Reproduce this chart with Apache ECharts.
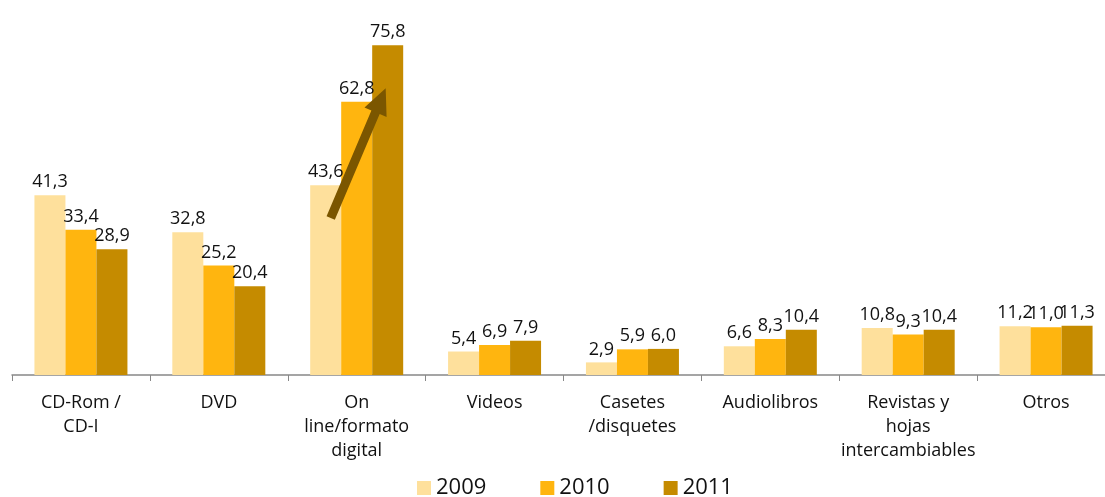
<!DOCTYPE html>
<html>
<head>
<meta charset="utf-8">
<script src="https://cdn.jsdelivr.net/npm/echarts@6/dist/echarts.min.js"></script>
<style>
  html, body { margin:0; padding:0; background:#fff; }
  #chart { width:1105px; height:497px; }
</style>
</head>
<body>
<div id="chart"></div>
<script>
/* ====== datos ====== */
const categories = ['CD-Rom /\nCD-I', 'DVD', 'On\nline/formato\ndigital', 'Videos',
  'Casetes\n/disquetes', 'Audiolibros', 'Revistas y\nhojas\nintercambiables', 'Otros'];
const years = ['2009', '2010', '2011'];
const v2009 = [41.3, 32.8, 43.6, 5.4, 2.9, 6.6, 10.8, 11.2];
const v2010 = [33.4, 25.2, 62.8, 6.9, 5.9, 8.3, 9.3, 11.0];
const v2011 = [28.9, 20.4, 75.8, 7.9, 6.0, 10.4, 10.4, 11.3];
const colors = ['#FEE09C', '#FFB50F', '#C58B00'];

// flecha de tendencia (On line): 2009 -> 2011
const arrowFrom = 36.1, arrowTo = 65.9;

const chart = echarts.init(document.getElementById('chart'));
const FONT = '"Open Sans", Lato, sans-serif';

const mkSeries = (name, data, i) => ({
  name, type:'bar', data,
  barWidth:31, barGap:'0%',
  itemStyle:{ color:colors[i] },
  label:{
    show:true, position:'top', distance:4,
    color:'#111', fontSize:18, fontFamily:FONT,
    formatter: p => p.value.toFixed(1).replace('.', ',')
  }
});

chart.setOption({
  animation:false,
  backgroundColor:'#fff',
  grid:{ left:12, width:1103, top:27, bottom:122, outerBoundsMode:'none' },
  legend:{
    bottom:-7, left:412, itemGap:54,
    icon:'rect', itemWidth:14, itemHeight:14,
    textStyle:{ fontSize:22, color:'#111', fontFamily:FONT },
    data:years
  },
  xAxis:{
    type:'category', data:categories,
    axisLine:{ lineStyle:{ color:'#888', width:1.5 } },
    axisTick:{ show:true, length:6, lineStyle:{ color:'#888' } },
    axisLabel:{ color:'#111', fontSize:18, lineHeight:24, margin:16,
      fontFamily:FONT, interval:0 }
  },
  yAxis:{ type:'value', min:0, max:80, show:false, splitLine:{ show:false } },
  series:[ mkSeries(years[0], v2009, 0), mkSeries(years[1], v2010, 1), mkSeries(years[2], v2011, 2) ]
});

/* ====== flecha ====== */
const c = chart.convertToPixel({ seriesIndex:0 }, [2, arrowFrom]);
const d = chart.convertToPixel({ seriesIndex:0 }, [2, arrowTo]);
const x1 = c[0] - 31 + 5, y1 = c[1];
const x2 = d[0] + 31 - 2, y2 = d[1];
const dx = x2 - x1, dy = y2 - y1, len = Math.hypot(dx, dy);
const ux = dx / len, uy = dy / len, nx = -uy, ny = ux;
const headLen = 26, headW = 12, shaftW = 4.5;
const bx = x2 - ux * headLen, by = y2 - uy * headLen;
chart.setOption({
  graphic:[{
    type:'polygon', z:100,
    shape:{ points:[
      [x1 + nx * shaftW, y1 + ny * shaftW],
      [bx + nx * shaftW, by + ny * shaftW],
      [bx + nx * headW, by + ny * headW],
      [x2, y2],
      [bx - nx * headW, by - ny * headW],
      [bx - nx * shaftW, by - ny * shaftW],
      [x1 - nx * shaftW, y1 - ny * shaftW]
    ]},
    style:{ fill:'#7B5600' }
  }]
});
</script>
</body>
</html>
